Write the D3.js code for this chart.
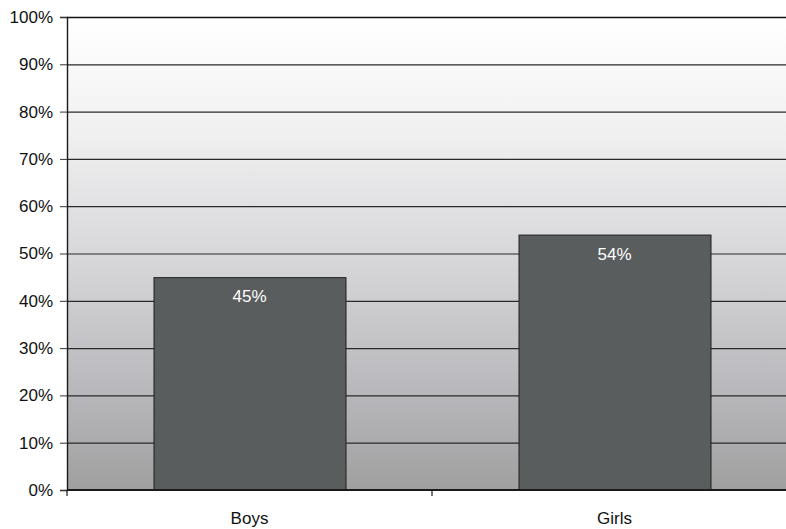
<!DOCTYPE html>
<html>
<head>
<meta charset="utf-8">
<script src="https://cdn.jsdelivr.net/npm/d3@7"></script>
<style>
  html, body { margin: 0; padding: 0; background: #ffffff; }
  svg { display: block; font-family: "Liberation Sans", Arial, Helvetica, sans-serif; }
</style>
</head>
<body>
<svg id="chart" width="786" height="529"></svg>
<script>
// Share of respondents by group
const categories = ["Boys", "Girls"];
const values = [45, 54];
const yTicks = [0, 10, 20, 30, 40, 50, 60, 70, 80, 90, 100];

(function () {
const svg = d3.select("#chart");
const plotLeft = 67, plotRight = 797, plotTop = 17, plotBottom = 490;
const fontSize = 17;

const x = d3.scaleBand()
  .domain(categories)
  .range([plotLeft, plotRight])
  .paddingInner(0.474)
  .paddingOuter(0.237);

const y = d3.scaleLinear().domain([0, 100]).range([plotBottom, plotTop]);

// Plot background: light at the top fading to grey at the bottom
const defs = svg.append("defs");
const grad = defs.append("linearGradient")
  .attr("id", "bg").attr("x1", 0).attr("y1", 0).attr("x2", 0).attr("y2", 1);
grad.append("stop").attr("offset", "0%").attr("stop-color", "#ffffff");
grad.append("stop").attr("offset", "25%").attr("stop-color", "#f0f0f1");
grad.append("stop").attr("offset", "55%").attr("stop-color", "#d3d3d6");
grad.append("stop").attr("offset", "80%").attr("stop-color", "#b7b6ba");
grad.append("stop").attr("offset", "100%").attr("stop-color", "#a0a0a0");

svg.append("rect")
  .attr("x", plotLeft).attr("y", plotTop)
  .attr("width", plotRight - plotLeft).attr("height", plotBottom - plotTop)
  .attr("fill", "url(#bg)");

// Horizontal gridlines
svg.append("g")
  .selectAll("line")
  .data(yTicks.filter(d => d > 0))
  .join("line")
  .attr("x1", plotLeft).attr("x2", plotRight)
  .attr("y1", d => y(d) + 0.5).attr("y2", d => y(d) + 0.5)
  .attr("stroke", d => d === 100 ? "#111" : "#2a2a2a")
  .attr("stroke-width", d => d === 100 ? 1.6 : 1.2);

// Bars
svg.append("g")
  .selectAll("rect")
  .data(categories)
  .join("rect")
  .attr("x", d => x(d) + 0.5)
  .attr("y", (d, i) => y(values[i]) + 0.5)
  .attr("width", x.bandwidth())
  .attr("height", (d, i) => y(0) - y(values[i]))
  .attr("fill", "#595d5e")
  .attr("stroke", "#1e1e1e")
  .attr("stroke-width", 1);

// Value labels inside bars
svg.append("g")
  .selectAll("text")
  .data(categories)
  .join("text")
  .attr("x", d => x(d) + x.bandwidth() / 2)
  .attr("y", (d, i) => y(values[i]) + 25)
  .attr("text-anchor", "middle")
  .attr("fill", "#ffffff")
  .attr("font-size", fontSize)
  .text((d, i) => values[i] + "%");

// Y axis
const yAxis = d3.axisLeft(y)
  .tickValues(yTicks)
  .tickFormat(d => d + "%")
  .tickSize(7)
  .tickPadding(7);
const gy = svg.append("g").attr("transform", `translate(${plotLeft},0)`).call(yAxis);
gy.select(".domain").attr("stroke", "#1a1a1a").attr("stroke-width", 1.4);
gy.selectAll(".tick line").attr("stroke", "#333");
gy.selectAll(".tick text")
  .attr("font-size", fontSize)
  .attr("fill", "#111")
  .attr("font-family", "Liberation Sans, Arial, sans-serif");

// X axis with ticks at the category boundaries
const gx = svg.append("g").attr("transform", `translate(0,${plotBottom})`);
gx.append("line")
  .attr("x1", plotLeft).attr("x2", plotRight)
  .attr("y1", 0).attr("y2", 0)
  .attr("stroke", "#1a1a1a").attr("stroke-width", 2.2);
const boundaries = [plotLeft, ...categories.slice(1).map(c => x(c) - x.step() * x.paddingInner() / 2)];
gx.selectAll("line.tick")
  .data(boundaries)
  .join("line")
  .attr("class", "tick")
  .attr("x1", d => d).attr("x2", d => d)
  .attr("y1", 0).attr("y2", 6)
  .attr("stroke", "#1a1a1a").attr("stroke-width", 1.2);
gx.selectAll("text")
  .data(categories)
  .join("text")
  .attr("x", d => x(d) + x.bandwidth() / 2)
  .attr("y", 34)
  .attr("text-anchor", "middle")
  .attr("font-size", fontSize)
  .attr("fill", "#111")
  .text(d => d);
})();
</script>
</body>
</html>
